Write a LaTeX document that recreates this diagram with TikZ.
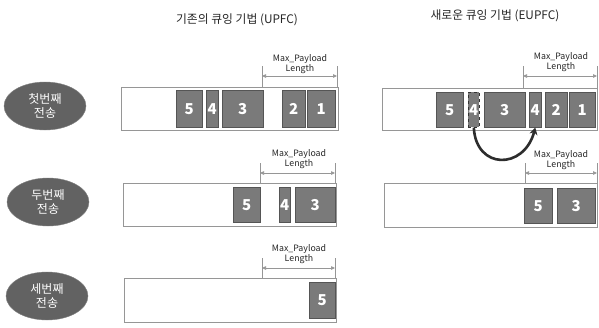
\documentclass[tikz,border=0pt]{standalone}
\usepackage{fontspec}
\setmainfont{Noto Sans CJK KR}
\usetikzlibrary{shapes.geometric,arrows.meta}
\definecolor{ellfill}{RGB}{98,98,98}
\definecolor{blkfill}{RGB}{122,122,122}
\definecolor{blkline}{RGB}{85,85,85}
\definecolor{frameline}{RGB}{150,150,150}
\definecolor{dimcol}{RGB}{150,150,150}
\definecolor{arccol}{RGB}{45,45,45}
\tikzset{
  ell/.style={ellipse, fill=ellfill, draw=ellfill!80, minimum width=82pt, minimum height=48pt, text=white, font=\fontsize{12}{14}\selectfont, align=center, inner sep=0pt},
  frame/.style={draw=frameline, line width=0.8pt, fill=white, anchor=north west, inner sep=0pt},
  blk/.style={fill=blkfill, draw=blkline, line width=0.6pt, anchor=north west, inner sep=0pt, text=white, font=\fontsize{15}{15}\selectfont\bfseries},
  dblk/.style={blk, dashed, draw=black!80},
  dim/.style={draw=dimcol, line width=0.7pt, {Triangle[length=4pt,width=3.5pt]}-{Triangle[length=4pt,width=3.5pt]}},
  tick/.style={draw=dimcol, line width=0.7pt},
  dimtext/.style={font=\fontsize{8.8}{10}\selectfont, align=center, text=black!85, inner sep=0pt},
  title/.style={font=\fontsize{11.8}{13}\selectfont, text=black!85},
  arc/.style={draw=arccol, line width=2.6pt, -{Stealth[length=7pt,width=8pt]}}
}
\begin{document}
\begin{tikzpicture}[x=1pt,y=-1pt]
\useasboundingbox (0,0) rectangle (599,327);
\fill[white] (0,0) rectangle (599,327);
% titles
\node[title] (t1) at (237,20) {기존의 큐잉 기법 (UPFC)};
\node[title] (t2) at (495,16) {새로운 큐잉 기법 (EUPFC)};
% ellipses
\node[ell] (e1) at (45,106) {첫번째\\전송};
\node[ell] (e2) at (48,202) {두번째\\전송};
\node[ell] (e3) at (47,296) {세번째\\전송};
% ---- left row 1
\node[frame, minimum width=217pt, minimum height=43pt] (f1) at (121,87) {};
\node[blk, minimum width=26pt, minimum height=37pt] (a5) at (176,90) {5};
\node[blk, minimum width=12pt, minimum height=37pt] (a4) at (206,90) {4};
\node[blk, minimum width=41pt, minimum height=37pt] (a3) at (222,90) {3};
\node[blk, minimum width=23pt, minimum height=37pt] (a2) at (282,90) {2};
\node[blk, minimum width=28pt, minimum height=37pt] (a1) at (307,90) {1};
\coordinate (l1a) at (262,76); \coordinate (l1b) at (337,76);
\draw[tick] (262,66) -- (262,87); \draw[tick] (337,66) -- (337,87);
\draw[dim] (l1a) -- (l1b);
\node[dimtext] (m1) at (300,64) {Max\_Payload\\Length};
% ---- left row 2
\node[frame, minimum width=213pt, minimum height=43pt] (f2) at (123,183) {};
\node[blk, minimum width=27pt, minimum height=35pt] (b5) at (233,187) {5};
\node[blk, minimum width=11pt, minimum height=35pt] (b4) at (279,187) {4};
\node[blk, minimum width=40pt, minimum height=35pt] (b3) at (295,187) {3};
\coordinate (l2a) at (260,173); \coordinate (l2b) at (335,173);
\draw[tick] (260,163) -- (260,183); \draw[tick] (335,163) -- (335,183);
\draw[dim] (l2a) -- (l2b);
\node[dimtext] (m2) at (299,159) {Max\_Payload\\Length};
% ---- left row 3
\node[frame, minimum width=212pt, minimum height=44pt] (f3) at (124,278) {};
\node[blk, minimum width=26pt, minimum height=36pt] (c5) at (309,282) {5};
\coordinate (l3a) at (262,268); \coordinate (l3b) at (335,268);
\draw[tick] (262,258) -- (262,278); \draw[tick] (335,258) -- (335,278);
\draw[dim] (l3a) -- (l3b);
\node[dimtext] (m3) at (299,254) {Max\_Payload\\Length};
% ---- right row 1
\node[frame, minimum width=215pt, minimum height=42pt] (g1) at (382,88) {};
\node[blk, minimum width=27pt, minimum height=35pt] (r5) at (436,92) {5};
\node[dblk, minimum width=11pt, minimum height=35pt] (rd4) at (468,92) {4};
\node[blk, minimum width=41pt, minimum height=35pt] (r3) at (484,92) {3};
\node[blk, minimum width=12pt, minimum height=35pt] (r4) at (529,92) {4};
\node[blk, minimum width=22pt, minimum height=35pt] (r2) at (545,92) {2};
\node[blk, minimum width=26pt, minimum height=35pt] (r1) at (569,92) {1};
\coordinate (l4a) at (523,76); \coordinate (l4b) at (597,76);
\draw[tick] (523,66) -- (523,88); \draw[tick] (597,66) -- (597,88);
\draw[dim] (l4a) -- (l4b);
\node[dimtext] (m4) at (561,62) {Max\_Payload\\Length};
\draw[arc] (rd4.south) .. controls (476,170) and (524,170) .. (r4.south);
% ---- right row 2
\node[frame, minimum width=213pt, minimum height=44pt] (g2) at (384,183) {};
\node[blk, minimum width=28pt, minimum height=35pt] (s5) at (524,188) {5};
\node[blk, minimum width=38pt, minimum height=35pt] (s3) at (557,188) {3};
\coordinate (l5a) at (525,173); \coordinate (l5b) at (597,173);
\draw[tick] (525,163) -- (525,183); \draw[tick] (597,163) -- (597,183);
\draw[dim] (l5a) -- (l5b);
\node[dimtext] (m5) at (561,160) {Max\_Payload\\Length};
\end{tikzpicture}
\end{document}
